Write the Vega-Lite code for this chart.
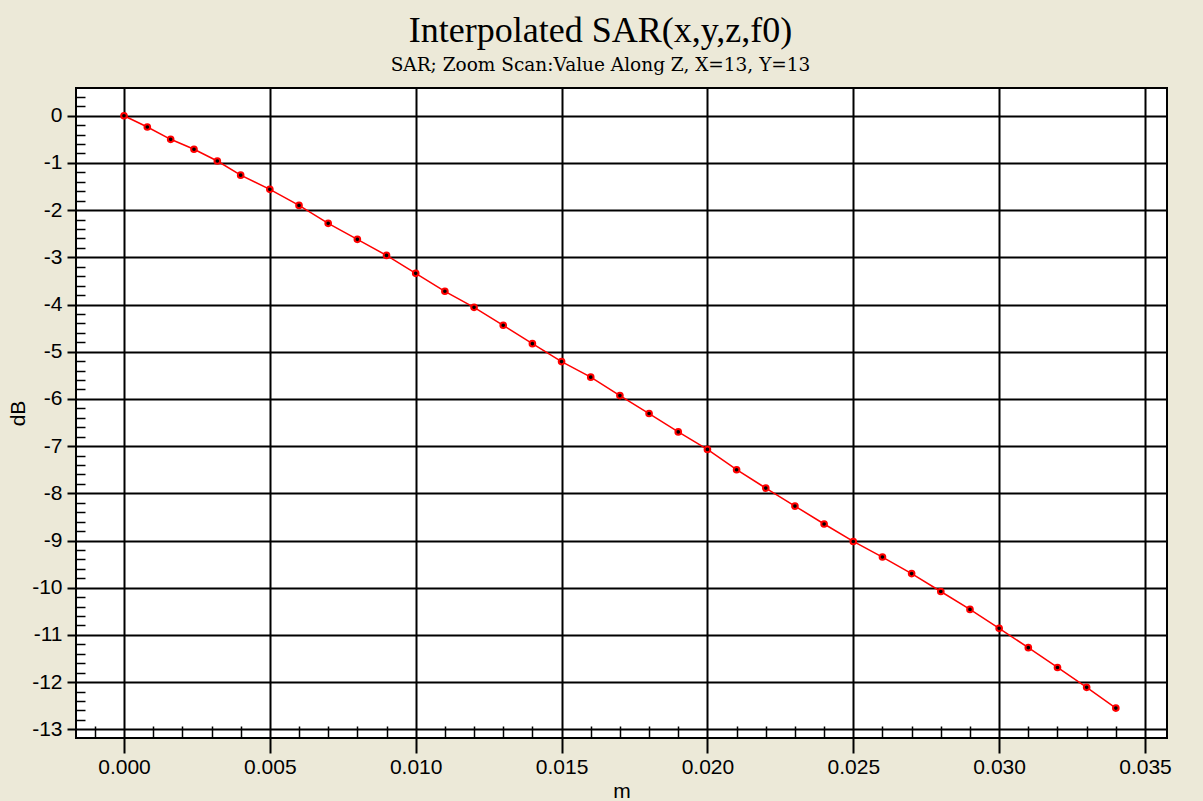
{
  "$schema": "https://vega.github.io/schema/vega-lite/v6.json",
  "width": 1091,
  "height": 650,
  "autosize": {"type": "none"},
  "padding": {"left": 76, "top": 88, "right": 36, "bottom": 63},
  "background": "#ECE9D8",
  "title": {
    "text": "Interpolated SAR(x,y,z,f0)",
    "subtitle": "SAR; Zoom Scan:Value Along Z, X=13, Y=13",
    "font": "Liberation Serif",
    "fontSize": 36,
    "fontWeight": "normal",
    "color": "#000000",
    "subtitleFont": "DejaVu Serif",
    "subtitleFontSize": 18.5,
    "subtitleColor": "#000000",
    "subtitlePadding": 6,
    "offset": 13,
    "anchor": "middle",
    "dx": -21
  },
  "config": {
    "view": {"fill": "#FFFFFF", "stroke": "#000000", "strokeWidth": 2},
    "axis": {
      "labelFont": "Liberation Sans",
      "labelFontSize": 21,
      "labelColor": "#000000",
      "titleFont": "Liberation Sans",
      "titleFontSize": 21,
      "titleFontWeight": "normal",
      "titleColor": "#000000",
      "tickColor": "#000000",
      "gridColor": "#000000",
      "gridOpacity": 1,
      "domain": false
    }
  },
  "data": {
    "values": [
      {"m": 0.0, "dB": 0.0},
      {"m": 0.0008, "dB": -0.24},
      {"m": 0.0016, "dB": -0.50},
      {"m": 0.0024, "dB": -0.71},
      {"m": 0.0032, "dB": -0.96},
      {"m": 0.004, "dB": -1.26},
      {"m": 0.005, "dB": -1.56},
      {"m": 0.006, "dB": -1.90},
      {"m": 0.007, "dB": -2.28},
      {"m": 0.008, "dB": -2.62},
      {"m": 0.009, "dB": -2.96},
      {"m": 0.010, "dB": -3.34},
      {"m": 0.011, "dB": -3.72},
      {"m": 0.012, "dB": -4.06},
      {"m": 0.013, "dB": -4.44},
      {"m": 0.014, "dB": -4.83},
      {"m": 0.015, "dB": -5.21},
      {"m": 0.016, "dB": -5.54},
      {"m": 0.017, "dB": -5.93},
      {"m": 0.018, "dB": -6.31},
      {"m": 0.019, "dB": -6.70},
      {"m": 0.020, "dB": -7.07},
      {"m": 0.021, "dB": -7.50},
      {"m": 0.022, "dB": -7.89},
      {"m": 0.023, "dB": -8.27},
      {"m": 0.024, "dB": -8.65},
      {"m": 0.025, "dB": -9.02},
      {"m": 0.026, "dB": -9.35},
      {"m": 0.027, "dB": -9.70},
      {"m": 0.028, "dB": -10.08},
      {"m": 0.029, "dB": -10.46},
      {"m": 0.030, "dB": -10.86},
      {"m": 0.031, "dB": -11.27},
      {"m": 0.032, "dB": -11.69},
      {"m": 0.033, "dB": -12.11},
      {"m": 0.034, "dB": -12.55}
    ]
  },
  "layer": [
    {
      "mark": {"type": "line", "color": "#FF0000", "strokeWidth": 1.5},
      "encoding": {
        "x": {
          "field": "m", "type": "quantitative",
          "scale": {"domain": [-0.001645, 0.035754], "nice": false, "zero": false},
          "axis": {
            "orient": "bottom",
            "title": "m",
            "values": [0, 0.005, 0.01, 0.015, 0.02, 0.025, 0.03, 0.035],
            "format": ".3f",
            "tickSize": 15,
            "tickWidth": 2,
            "grid": true,
            "gridWidth": 2,
            "labelPadding": 3,
            "titlePadding": 3
          }
        },
        "y": {
          "field": "dB", "type": "quantitative",
          "scale": {"domain": [-13.184, 0.587], "nice": false, "zero": false},
          "axis": {
            "orient": "left",
            "title": "dB",
            "values": [0, -1, -2, -3, -4, -5, -6, -7, -8, -9, -10, -11, -12, -13],
            "labelExpr": "'' + datum.value",
            "tickSize": 9,
            "tickWidth": 2,
            "grid": true,
            "gridWidth": 2,
            "labelPadding": 5,
            "titlePadding": 3
          }
        }
      }
    },
    {
      "mark": {"type": "point", "filled": true, "fill": "#000000", "stroke": "#FF0000", "strokeWidth": 2, "size": 32, "opacity": 1},
      "encoding": {
        "x": {
          "field": "m", "type": "quantitative",
          "axis": {
            "orient": "bottom",
            "title": null,
            "labels": false,
            "grid": false,
            "values": [-0.001, 0.001, 0.002, 0.003, 0.004, 0.006, 0.007, 0.008, 0.009, 0.011, 0.012, 0.013, 0.014, 0.016, 0.017, 0.018, 0.019, 0.021, 0.022, 0.023, 0.024, 0.026, 0.027, 0.028, 0.029, 0.031, 0.032, 0.033, 0.034],
            "tickSize": -12,
            "tickWidth": 1.5
          }
        },
        "y": {
          "field": "dB", "type": "quantitative",
          "axis": {
            "orient": "left",
            "title": null,
            "labels": false,
            "grid": false,
            "values": [0.4, 0.2, -0.2, -0.4, -0.6, -0.8, -1.2, -1.4, -1.6, -1.8, -2.2, -2.4, -2.6, -2.8, -3.2, -3.4, -3.6, -3.8, -4.2, -4.4, -4.6, -4.8, -5.2, -5.4, -5.6, -5.8, -6.2, -6.4, -6.6, -6.8, -7.2, -7.4, -7.6, -7.8, -8.2, -8.4, -8.6, -8.8, -9.2, -9.4, -9.6, -9.8, -10.2, -10.4, -10.6, -10.8, -11.2, -11.4, -11.6, -11.8, -12.2, -12.4, -12.6, -12.8],
            "tickSize": -9,
            "tickWidth": 1.5
          }
        }
      }
    }
  ],
  "resolve": {"axis": {"x": "independent", "y": "independent"}}
}
